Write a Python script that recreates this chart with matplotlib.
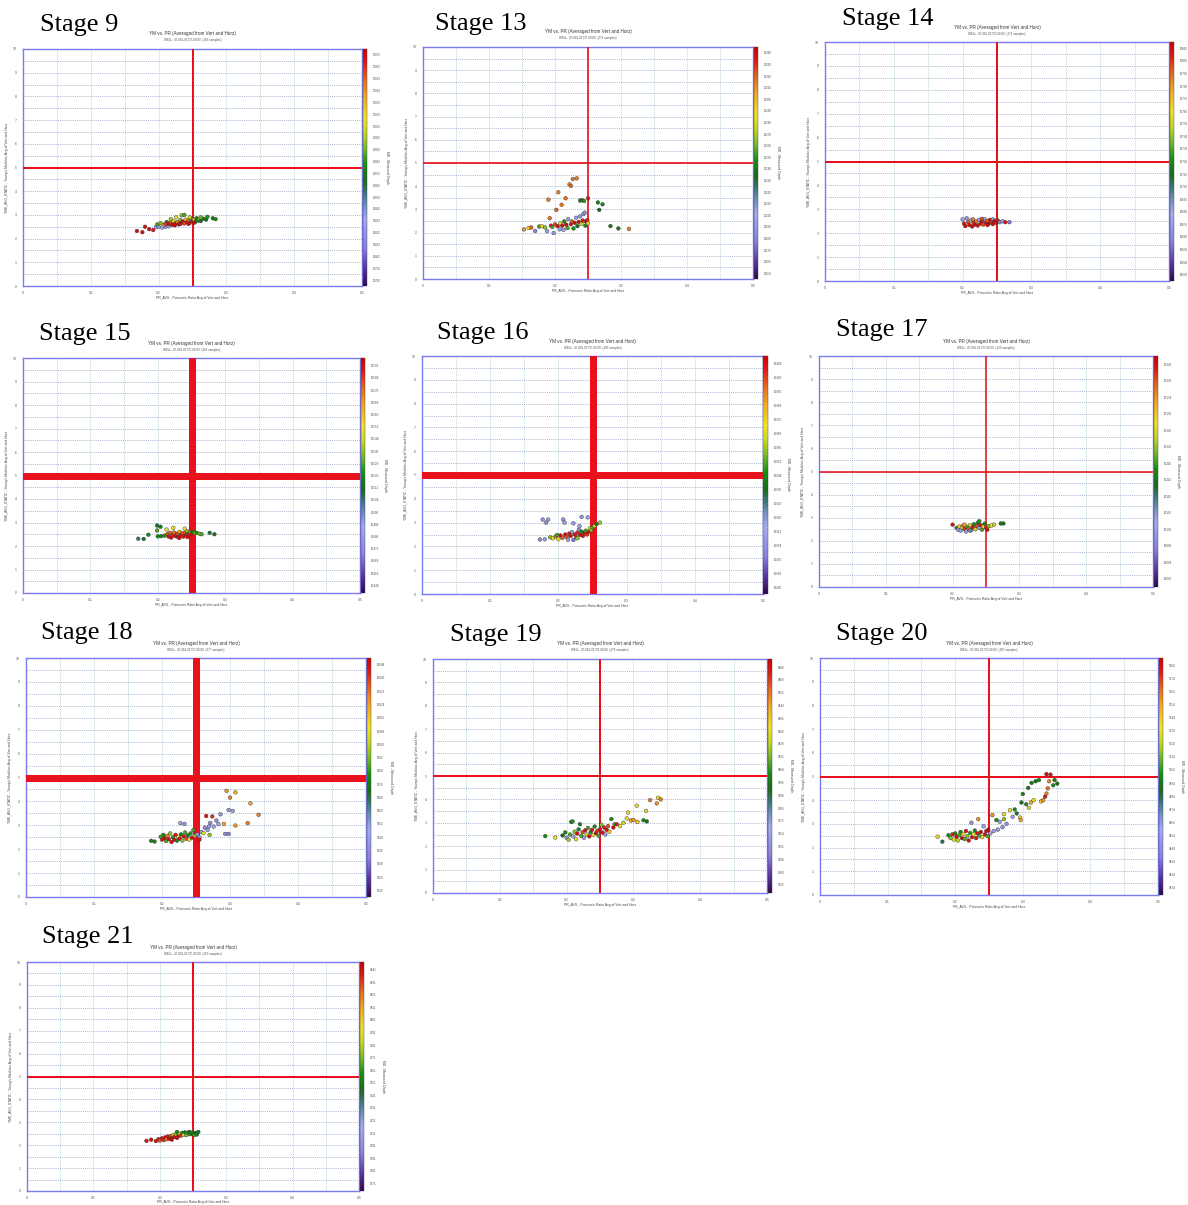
import numpy as np
import matplotlib
matplotlib.use("Agg")
import matplotlib.pyplot as plt
from matplotlib.colors import LinearSegmentedColormap, Normalize
from matplotlib.cm import ScalarMappable

plt.rcParams["font.family"] = ["Liberation Sans", "DejaVu Sans"]

# ---------------------------------------------------------------- data
stage_names = ["Stage 9", "Stage 13", "Stage 14", "Stage 15", "Stage 16",
               "Stage 17", "Stage 18", "Stage 19", "Stage 20", "Stage 21"]
sample_counts = [283, 271, 271, 261, 285, 133, 277, 276, 287, 255]
well_id = "47-081-01737-00-00"

# cut-off lines: Poisson's ratio and Young's modulus
pr_cut = 0.25
ym_cut = 5.0

# measured-depth colour scale for each stage
md_max = [11977, 11345, 10821, 10597, 10412, 10144, 10052, 9873, 9590, 9447]
md_min = [11777, 11145, 10631, 10443, 10276, 10088, 9908, 9727, 9408, 9265]
md_first_tick = [11972, 11340, 10816, 10592, 10408, 10142, 10048, 9868, 9584, 9441]
md_tick_step = [10, 10, 10, 8, 8, 4, 8, 8, 10, 10]

# points per stage: (PR, YM, relative depth 0=bottom .. 1=top)
pts_stage9 = [
    (0.168, 2.32, 0.97), (0.176, 2.27, 0.96), (0.180, 2.50, 0.95), (0.186, 2.40, 0.97), (0.192, 2.36, 0.95),
    (0.196, 2.48, 0.25), (0.200, 2.50, 0.22), (0.205, 2.47, 0.28), (0.210, 2.50, 0.20), (0.215, 2.52, 0.30),
    (0.198, 2.60, 0.55), (0.203, 2.66, 0.60), (0.208, 2.58, 0.72), (0.212, 2.70, 0.50), (0.215, 2.62, 0.96),
    (0.218, 2.68, 0.90), (0.220, 2.58, 0.97), (0.222, 2.74, 0.70), (0.225, 2.64, 0.95), (0.228, 2.70, 0.85),
    (0.230, 2.60, 0.98), (0.232, 2.78, 0.58), (0.234, 2.68, 0.93), (0.236, 2.72, 0.97), (0.238, 2.64, 0.90),
    (0.240, 2.80, 0.75), (0.242, 2.70, 0.96), (0.244, 2.76, 0.88), (0.246, 2.66, 0.97), (0.248, 2.84, 0.55),
    (0.250, 2.74, 0.96), (0.252, 2.80, 0.80), (0.254, 2.70, 0.50), (0.256, 2.86, 0.48), (0.258, 2.76, 0.52),
    (0.260, 2.82, 0.60), (0.262, 2.74, 0.45), (0.266, 2.84, 0.50), (0.270, 2.80, 0.48), (0.272, 2.92, 0.52),
    (0.280, 2.86, 0.47), (0.284, 2.82, 0.50), (0.234, 2.98, 0.60), (0.238, 3.00, 0.55), (0.226, 2.90, 0.70),
    (0.218, 2.82, 0.62), (0.224, 2.56, 0.98), (0.232, 2.62, 0.97), (0.244, 2.62, 0.96), (0.210, 2.62, 0.92),
    (0.252, 2.66, 0.97), (0.246, 2.90, 0.65), (0.262, 2.90, 0.58),
]
pts_stage13 = [
    (0.153, 2.14, 0.82), (0.160, 2.20, 0.70), (0.164, 2.22, 0.88), (0.170, 2.07, 0.18), (0.176, 2.26, 0.55),
    (0.180, 2.28, 0.72), (0.185, 2.22, 0.60), (0.188, 2.06, 0.25), (0.190, 3.42, 0.85), (0.192, 2.62, 0.86),
    (0.194, 2.30, 0.95), (0.196, 2.24, 0.55), (0.198, 1.98, 0.22), (0.200, 2.36, 0.90), (0.202, 2.98, 0.88),
    (0.204, 2.28, 0.97), (0.205, 3.74, 0.84), (0.207, 2.14, 0.30), (0.208, 2.40, 0.70), (0.210, 3.20, 0.85),
    (0.211, 2.30, 0.96), (0.213, 2.12, 0.25), (0.214, 2.48, 0.50), (0.216, 3.48, 0.86), (0.217, 2.34, 0.97),
    (0.219, 2.20, 0.55), (0.220, 2.58, 0.30), (0.222, 4.08, 0.84), (0.224, 4.01, 0.86), (0.224, 2.36, 0.95),
    (0.226, 2.48, 0.88), (0.227, 4.31, 0.86), (0.228, 2.18, 0.50), (0.230, 2.42, 0.97), (0.232, 2.64, 0.25),
    (0.233, 4.34, 0.85), (0.234, 2.28, 0.45), (0.236, 2.46, 0.96), (0.238, 3.38, 0.50), (0.238, 2.70, 0.22),
    (0.240, 2.38, 0.65), (0.241, 3.40, 0.48), (0.242, 2.52, 0.95), (0.243, 2.80, 0.25), (0.244, 3.36, 0.52),
    (0.245, 2.86, 0.20), (0.246, 2.30, 0.50), (0.247, 2.48, 0.97), (0.249, 2.54, 0.94), (0.250, 3.48, 0.95),
    (0.250, 2.40, 0.72), (0.265, 3.30, 0.48), (0.267, 2.98, 0.45), (0.272, 3.22, 0.50), (0.284, 2.28, 0.47),
    (0.296, 2.18, 0.48), (0.312, 2.16, 0.85),
]
pts_stage14 = [
    (0.200, 2.58, 0.25), (0.202, 2.40, 0.95), (0.204, 2.30, 0.97), (0.206, 2.62, 0.20), (0.208, 2.46, 0.90),
    (0.210, 2.34, 0.96), (0.212, 2.54, 0.30), (0.214, 2.28, 0.97), (0.216, 2.44, 0.92), (0.218, 2.36, 0.97),
    (0.220, 2.50, 0.85), (0.222, 2.32, 0.96), (0.224, 2.56, 0.25), (0.226, 2.40, 0.95), (0.228, 2.48, 0.97),
    (0.230, 2.36, 0.90), (0.232, 2.58, 0.22), (0.234, 2.44, 0.96), (0.236, 2.52, 0.88), (0.238, 2.40, 0.97),
    (0.240, 2.56, 0.95), (0.242, 2.46, 0.92), (0.244, 2.58, 0.30), (0.246, 2.50, 0.97), (0.248, 2.44, 0.95),
    (0.250, 2.56, 0.92), (0.252, 2.50, 0.97), (0.254, 2.46, 0.20), (0.258, 2.50, 0.25), (0.262, 2.46, 0.95),
    (0.268, 2.46, 0.15), (0.215, 2.58, 0.85), (0.228, 2.60, 0.90), (0.244, 2.38, 0.97), (0.236, 2.34, 0.97),
]
pts_stage15 = [
    (0.171, 2.31, 0.40), (0.179, 2.30, 0.42), (0.186, 2.48, 0.50), (0.199, 2.87, 0.45), (0.204, 2.82, 0.48),
    (0.199, 2.66, 0.55), (0.200, 2.41, 0.50), (0.205, 2.42, 0.48), (0.210, 2.44, 0.52), (0.213, 2.70, 0.70),
    (0.214, 2.50, 0.90), (0.216, 2.40, 0.96), (0.218, 2.56, 0.88), (0.220, 2.36, 0.97), (0.222, 2.48, 0.94),
    (0.223, 2.77, 0.70), (0.224, 2.58, 0.85), (0.226, 2.42, 0.97), (0.228, 2.52, 0.92), (0.230, 2.38, 0.96),
    (0.232, 2.60, 0.80), (0.234, 2.46, 0.97), (0.236, 2.54, 0.90), (0.238, 2.40, 0.95), (0.240, 2.74, 0.70),
    (0.240, 2.56, 0.88), (0.242, 2.48, 0.96), (0.244, 2.62, 0.60), (0.246, 2.52, 0.92), (0.248, 2.58, 0.55),
    (0.250, 2.50, 0.97), (0.252, 2.60, 0.50), (0.255, 2.55, 0.58), (0.258, 2.56, 0.52), (0.262, 2.52, 0.60),
    (0.265, 2.50, 0.55), (0.277, 2.56, 0.42), (0.284, 2.50, 0.45), (0.232, 2.34, 0.96), (0.244, 2.38, 0.97),
]
pts_stage16 = [
    (0.173, 2.29, 0.20), (0.180, 2.30, 0.25), (0.177, 3.13, 0.22), (0.182, 3.00, 0.20), (0.185, 3.13, 0.25),
    (0.188, 2.38, 0.60), (0.192, 2.34, 0.70), (0.196, 2.42, 0.85), (0.200, 2.30, 0.72), (0.203, 2.46, 0.95),
    (0.206, 2.36, 0.88), (0.207, 3.13, 0.22), (0.209, 3.00, 0.25), (0.210, 2.50, 0.96), (0.212, 2.40, 0.90),
    (0.214, 2.28, 0.25), (0.216, 2.54, 0.95), (0.218, 2.44, 0.97), (0.220, 2.60, 0.30), (0.222, 2.27, 0.15),
    (0.222, 2.97, 0.22), (0.224, 2.50, 0.96), (0.226, 2.40, 0.92), (0.228, 2.58, 0.94), (0.230, 2.70, 0.20),
    (0.231, 2.85, 0.25), (0.232, 2.48, 0.97), (0.234, 3.24, 0.22), (0.234, 2.62, 0.50), (0.236, 2.44, 0.95),
    (0.238, 2.56, 0.97), (0.240, 2.66, 0.55), (0.242, 2.50, 0.92), (0.243, 3.22, 0.25), (0.244, 2.60, 0.96),
    (0.246, 2.76, 0.70), (0.248, 2.68, 0.60), (0.250, 2.80, 0.55), (0.253, 2.86, 0.65), (0.256, 2.94, 0.50),
    (0.261, 3.00, 0.62), (0.198, 2.48, 0.55), (0.228, 2.34, 0.60),
]
pts_stage17 = [
    (0.200, 2.70, 0.96), (0.206, 2.56, 0.40), (0.208, 2.48, 0.25), (0.210, 2.62, 0.75), (0.212, 2.44, 0.30),
    (0.214, 2.58, 0.70), (0.216, 2.66, 0.85), (0.218, 2.50, 0.92), (0.220, 2.40, 0.25), (0.222, 2.60, 0.55),
    (0.224, 2.52, 0.88), (0.226, 2.68, 0.70), (0.228, 2.46, 0.30), (0.230, 2.58, 0.95), (0.232, 2.72, 0.50),
    (0.234, 2.50, 0.65), (0.236, 2.64, 0.90), (0.238, 2.78, 0.48), (0.240, 2.85, 0.52), (0.240, 2.56, 0.25),
    (0.242, 2.68, 0.95), (0.244, 2.48, 0.55), (0.246, 2.62, 0.72), (0.248, 2.74, 0.50), (0.250, 2.56, 0.94),
    (0.252, 2.48, 0.97), (0.254, 2.64, 0.60), (0.258, 2.66, 0.70), (0.262, 2.70, 0.65), (0.272, 2.75, 0.48),
    (0.276, 2.75, 0.45), (0.218, 2.70, 0.80), (0.226, 2.44, 0.35),
]
pts_stage18 = [
    (0.184, 2.35, 0.50), (0.189, 2.32, 0.48), (0.198, 2.52, 0.55), (0.200, 2.40, 0.95), (0.202, 2.60, 0.50),
    (0.204, 2.46, 0.97), (0.206, 2.34, 0.55), (0.208, 2.56, 0.85), (0.210, 2.42, 0.96), (0.212, 2.66, 0.60),
    (0.214, 2.30, 0.95), (0.216, 2.50, 0.52), (0.218, 2.40, 0.97), (0.220, 2.60, 0.95), (0.222, 2.36, 0.50),
    (0.224, 2.52, 0.72), (0.226, 2.44, 0.96), (0.227, 3.09, 0.25), (0.228, 2.62, 0.48), (0.230, 2.36, 0.60),
    (0.232, 2.54, 0.96), (0.233, 3.06, 0.22), (0.234, 2.70, 0.55), (0.236, 2.44, 0.90), (0.238, 2.58, 0.50),
    (0.240, 2.40, 0.70), (0.242, 2.66, 0.52), (0.244, 2.48, 0.95), (0.246, 2.80, 0.55), (0.248, 2.56, 0.62),
    (0.252, 2.62, 0.30), (0.255, 2.50, 0.25), (0.258, 2.72, 0.25), (0.261, 2.67, 0.70), (0.263, 2.90, 0.20),
    (0.265, 3.39, 0.95), (0.267, 2.80, 0.25), (0.269, 2.95, 0.22), (0.271, 3.10, 0.20), (0.274, 3.37, 0.92),
    (0.276, 2.95, 0.25), (0.280, 3.20, 0.20), (0.283, 3.05, 0.28), (0.286, 3.46, 0.22), (0.291, 3.06, 0.80),
    (0.293, 2.64, 0.20), (0.295, 4.44, 0.82), (0.298, 3.64, 0.22), (0.298, 2.64, 0.18), (0.300, 4.16, 0.84),
    (0.304, 3.60, 0.25), (0.308, 4.38, 0.78), (0.308, 2.99, 0.82), (0.326, 3.09, 0.85), (0.330, 3.92, 0.80),
    (0.342, 3.44, 0.84), (0.270, 2.60, 0.60), (0.255, 2.40, 0.96),
]
pts_stage19 = [
    (0.168, 2.43, 0.50), (0.183, 2.37, 0.70), (0.194, 2.46, 0.45), (0.198, 2.59, 0.50), (0.200, 2.36, 0.20),
    (0.203, 2.28, 0.62), (0.205, 2.50, 0.55), (0.207, 3.04, 0.48), (0.209, 3.06, 0.52), (0.210, 2.42, 0.25),
    (0.212, 2.62, 0.60), (0.214, 2.30, 0.70), (0.216, 2.54, 0.96), (0.218, 2.72, 0.50), (0.220, 2.94, 0.48),
    (0.222, 2.44, 0.55), (0.224, 2.60, 0.90), (0.226, 2.36, 0.25), (0.228, 2.68, 0.96), (0.230, 2.50, 0.65),
    (0.232, 2.78, 0.55), (0.234, 2.42, 0.97), (0.236, 2.60, 0.50), (0.238, 2.70, 0.95), (0.240, 2.48, 0.70),
    (0.242, 2.84, 0.50), (0.244, 2.56, 0.97), (0.246, 2.66, 0.92), (0.248, 2.44, 0.55), (0.250, 2.72, 0.96),
    (0.252, 2.92, 0.60), (0.254, 2.58, 0.97), (0.256, 2.80, 0.94), (0.258, 2.50, 0.25), (0.260, 2.70, 0.96),
    (0.262, 2.86, 0.90), (0.264, 2.62, 0.75), (0.267, 3.16, 0.50), (0.270, 2.80, 0.97), (0.272, 2.94, 0.55),
    (0.275, 2.94, 0.95), (0.280, 2.86, 0.70), (0.285, 3.00, 0.65), (0.290, 3.19, 0.70), (0.292, 3.44, 0.72),
    (0.296, 3.10, 0.80), (0.300, 3.12, 0.82), (0.305, 3.73, 0.70), (0.306, 3.04, 0.75), (0.315, 3.11, 0.50),
    (0.319, 3.51, 0.72), (0.320, 3.06, 0.45), (0.325, 3.97, 0.84), (0.335, 3.83, 0.82), (0.337, 4.07, 0.70),
    (0.341, 4.00, 0.84),
]
pts_stage20 = [
    (0.174, 2.46, 0.72), (0.181, 2.25, 0.42), (0.190, 2.52, 0.50), (0.193, 2.40, 0.60), (0.196, 2.56, 0.95),
    (0.198, 2.34, 0.70), (0.200, 2.60, 0.50), (0.202, 2.46, 0.96), (0.204, 2.30, 0.65), (0.206, 2.52, 0.55),
    (0.208, 2.66, 0.50), (0.210, 2.40, 0.97), (0.212, 2.58, 0.72), (0.214, 2.36, 0.55), (0.216, 2.70, 0.95),
    (0.218, 2.48, 0.60), (0.220, 2.30, 0.96), (0.222, 2.62, 0.52), (0.224, 3.05, 0.22), (0.225, 2.44, 0.97),
    (0.227, 2.56, 0.70), (0.229, 2.72, 0.50), (0.231, 2.40, 0.96), (0.233, 2.60, 0.95), (0.234, 3.20, 0.82),
    (0.236, 2.50, 0.55), (0.238, 2.66, 0.97), (0.240, 2.44, 0.72), (0.242, 2.90, 0.25), (0.244, 2.56, 0.96),
    (0.246, 2.70, 0.97), (0.248, 2.48, 0.55), (0.249, 2.76, 0.98), (0.252, 2.60, 0.25), (0.255, 3.37, 0.82),
    (0.257, 2.70, 0.25), (0.261, 3.16, 0.50), (0.263, 2.76, 0.22), (0.266, 3.09, 0.25), (0.270, 2.86, 0.20),
    (0.272, 3.20, 0.60), (0.272, 3.41, 0.70), (0.276, 3.00, 0.22), (0.281, 3.58, 0.70), (0.285, 3.30, 0.25),
    (0.288, 3.61, 0.50), (0.291, 3.44, 0.48), (0.296, 3.27, 0.75), (0.297, 3.16, 0.80), (0.298, 3.90, 0.45),
    (0.300, 4.26, 0.48), (0.305, 3.83, 0.50), (0.308, 4.52, 0.45), (0.309, 3.68, 0.72), (0.312, 3.90, 0.80),
    (0.313, 4.73, 0.48), (0.316, 4.00, 0.70), (0.319, 4.80, 0.45), (0.324, 4.85, 0.50), (0.327, 3.95, 0.75),
    (0.330, 4.00, 0.82), (0.333, 4.15, 0.95), (0.335, 4.28, 0.84), (0.335, 5.10, 0.97), (0.337, 4.50, 0.86),
    (0.339, 4.80, 0.84), (0.341, 5.08, 0.96), (0.345, 4.63, 0.50), (0.347, 4.85, 0.48), (0.351, 4.70, 0.45),
]
pts_stage21 = [
    (0.180, 2.19, 0.96), (0.187, 2.24, 0.97), (0.194, 2.18, 0.95), (0.198, 2.26, 0.97), (0.200, 2.20, 0.88),
    (0.203, 2.30, 0.96), (0.206, 2.22, 0.92), (0.208, 2.34, 0.97), (0.210, 2.26, 0.85), (0.212, 2.38, 0.95),
    (0.214, 2.28, 0.97), (0.216, 2.40, 0.90), (0.218, 2.32, 0.96), (0.220, 2.44, 0.75), (0.222, 2.36, 0.97),
    (0.224, 2.48, 0.60), (0.226, 2.58, 0.50), (0.228, 2.40, 0.95), (0.230, 2.50, 0.65), (0.232, 2.42, 0.92),
    (0.234, 2.54, 0.50), (0.236, 2.46, 0.70), (0.238, 2.56, 0.48), (0.240, 2.44, 0.60), (0.242, 2.52, 0.55),
    (0.244, 2.58, 0.45), (0.246, 2.48, 0.50), (0.248, 2.56, 0.52), (0.250, 2.50, 0.48), (0.252, 2.44, 0.55),
    (0.254, 2.54, 0.45), (0.256, 2.47, 0.50), (0.258, 2.58, 0.48), (0.226, 2.32, 0.96), (0.218, 2.24, 0.97),
]
stage_points = [pts_stage9, pts_stage13, pts_stage14, pts_stage15, pts_stage16,
                pts_stage17, pts_stage18, pts_stage19, pts_stage20, pts_stage21]

# ---------------------------------------------------------------- layout (pixels)
W, H = 1188, 1205
plot_boxes = [(23, 49, 362, 286), (423, 47, 753, 279), (825, 42, 1169, 281),
              (23, 358, 360, 593), (422, 356, 763, 594), (819, 356, 1153, 587),
              (26, 658, 366, 897), (433, 659, 767, 893), (820, 658, 1158, 895),
              (27, 962, 359, 1191)]
label_pos = [(40, 25), (435, 24), (842, 19), (39, 334), (437, 333), (836, 330),
             (41, 633), (450, 635), (836, 634), (42, 937)]
cut_line_px = [2.0, 1.7, 2.0, 7.0, 7.0, 1.6, 7.0, 2.0, 2.0, 2.0]
xlabel_pad = [1.0, 1.0, 1.0, 1.0, 1.0, 1.0, 1.0, 1.0, 1.0, 0.2]
# the right-most panel of the top row has no room for its colour-bar title
show_md_title = [True, True, False, True, True, True, True, True, True, True]

md_cmap = LinearSegmentedColormap.from_list("md", [
    (0.00, "#2e0650"), (0.08, "#5e3aa8"), (0.16, "#8a80e0"), (0.28, "#a4aaf0"),
    (0.34, "#7090c0"), (0.39, "#3a7a78"), (0.44, "#1a6a1a"), (0.51, "#129012"),
    (0.58, "#74ba28"), (0.65, "#c8da20"), (0.71, "#f2e222"), (0.80, "#f2a822"),
    (0.88, "#e8621a"), (0.95, "#e01212"), (1.00, "#d00000")])

RED = "#e8121c"
PX2PT = 72.0 / 100.0


def px_rect(l, t, r, b):
    return [l / W, 1 - b / H, (r - l) / W, (b - t) / H]


fig = plt.figure(figsize=(W / 100, H / 100), dpi=100)
fig.patch.set_facecolor("white")

for i, name in enumerate(stage_names):
    l, t, r, b = plot_boxes[i]
    ax = fig.add_axes(px_rect(l, t, r, b))
    ax.set_xlim(0, 0.5)
    ax.set_ylim(0, 10)
    ax.set_xticks(np.arange(0, 0.51, 0.1))
    ax.set_xticklabels(["0", "0.1", "0.2", "0.3", "0.4", "0.5"])
    ax.set_xticks(np.arange(0, 0.5, 0.05), minor=True)
    ax.set_yticks(np.arange(0, 11, 1))
    ax.set_yticks(np.arange(0, 10, 0.5), minor=True)
    ax.grid(which="both", axis="x", color="#a6ccd4", ls=(0, (1, 1.3)), lw=0.6)
    ax.grid(which="both", axis="y", color="#98a6c4", ls=(0, (1, 1.3)), lw=0.6)
    ax.set_axisbelow(True)
    ax.tick_params(which="both", length=0, labelsize=2.4, pad=4.5, colors="#555555")
    ax.tick_params(axis="x", pad=3.5)
    for sp in ax.spines.values():
        sp.set_color("#7a7af2")
        sp.set_linewidth(1.0)

    lw = cut_line_px[i] * PX2PT
    ax.axvline(pr_cut, color=RED, lw=lw, zorder=3)
    ax.axhline(ym_cut, color=RED, lw=lw, zorder=3)

    pts = np.array(stage_points[i])
    ax.scatter(pts[:, 0], pts[:, 1], c=pts[:, 2], cmap=md_cmap, vmin=0, vmax=1,
               s=7, edgecolors="#333333", linewidths=0.3, zorder=4)

    ax.set_xlabel("PR_AVG - Poisson's Ratio Avg of Vert and Horz", fontsize=2.4,
                  labelpad=xlabel_pad[i], color="#444444")
    ax.set_ylabel("YME_AVG_STATIC - Young's Modulus Avg of Vert and Horz", fontsize=2.4,
                  labelpad=3.0, color="#444444")

    # measured depth colour bar
    cax = fig.add_axes(px_rect(r + 0.5, t, r + 5, b))
    sm = ScalarMappable(norm=Normalize(md_min[i], md_max[i]), cmap=md_cmap)
    cb = fig.colorbar(sm, cax=cax)
    cb.set_ticks(np.arange(md_first_tick[i], md_min[i], -md_tick_step[i]))
    cb.ax.tick_params(length=0, labelsize=2.2, pad=4, colors="#555555")
    cb.outline.set_linewidth(0.3)
    cb.outline.set_edgecolor("#444444")
    if show_md_title[i]:
        cb.set_label("MD - Measured Depth", fontsize=2.4, rotation=270, labelpad=6,
                     color="#444444")

    cx = (l + r) / 2
    fig.text(cx / W, 1 - (t - 15) / H, "YM vs. PR (Averaged from Vert and Horz)",
             fontsize=3.3, ha="center", va="center", color="#333333")
    fig.text(cx / W, 1 - (t - 8.5) / H,
             f"WELL: {well_id}  ({sample_counts[i]} samples)",
             fontsize=2.2, ha="center", va="center", color="#555555")

    lx, ly = label_pos[i]
    fig.text(lx / W, 1 - ly / H, name, fontsize=19, family="Liberation Serif",
             ha="left", va="center", color="black")

fig.savefig("out.png", dpi=100, facecolor="white")
